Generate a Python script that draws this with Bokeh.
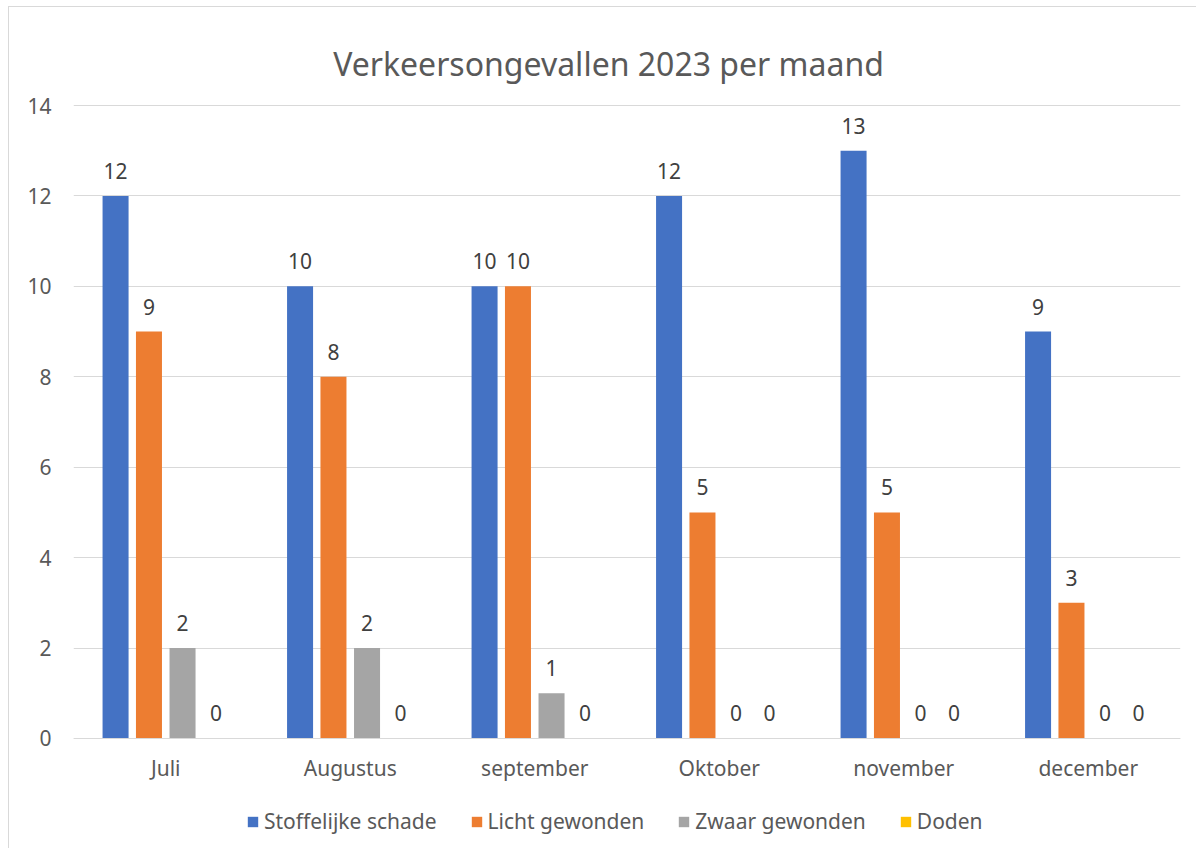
from bokeh.plotting import figure
from bokeh.models import ColumnDataSource, LabelSet, Label, Legend, LegendItem, Range1d, FixedTicker
from bokeh.core.properties import value
from bokeh.transform import dodge
from bokeh.embed import file_html
from bokeh.resources import INLINE

months = ["Juli", "Augustus", "september", "Oktober", "november", "december"]
series = ["Stoffelijke schade", "Licht gewonden", "Zwaar gewonden", "Doden"]
stoffelijke = [12, 10, 10, 12, 13, 9]
licht = [9, 8, 10, 5, 5, 3]
zwaar = [2, 2, 1, 0, 0, 0]
doden = [0, 0, 0, 0, 0, 0]
colors = ["#4472C4", "#ED7D31", "#A5A5A5", "#FFC000"]
y_ticks = [0, 2, 4, 6, 8, 10, 12, 14]
title_text = "Verkeersongevallen 2023 per maand"

FONT = "Noto Sans"
FS = "21px"

p = figure(x_range=months, y_range=Range1d(-2.433, 16.1675), frame_width=1107, frame_height=841,
           output_backend="svg", toolbar_location=None,
           min_border_left=64, min_border_right=16, min_border_top=0, min_border_bottom=0)
p.margin = (6, 0, 0, 8)
p.styles = {"border-left": "1px solid #d9d9d9", "border-top": "1px solid #d9d9d9"}

p.outline_line_color = None
p.xgrid.grid_line_color = None
p.ygrid.grid_line_color = "#d9d9d9"
p.ygrid.grid_line_width = 1

p.yaxis.ticker = FixedTicker(ticks=y_ticks)
p.yaxis.axis_line_color = None
p.yaxis.major_tick_line_color = None
p.yaxis.minor_tick_line_color = None
p.yaxis.major_tick_out = 0
p.yaxis.major_label_standoff = 22
p.yaxis.major_label_text_font = FONT
p.yaxis.major_label_text_font_size = FS
p.yaxis.major_label_text_color = "#595959"

p.xaxis.fixed_location = 0
p.xaxis.axis_line_color = "#d9d9d9"
p.xaxis.major_tick_line_color = None
p.xaxis.minor_tick_line_color = None
p.xaxis.major_tick_out = 0
p.xaxis.major_label_standoff = 16
p.xaxis.major_label_text_font = FONT
p.xaxis.major_label_text_font_size = FS
p.xaxis.major_label_text_color = "#595959"
p.x_range.range_padding = 0

src = ColumnDataSource(dict(month=months, s0=stoffelijke, s1=licht, s2=zwaar, s3=doden,
                            t0=[str(v) for v in stoffelijke], t1=[str(v) for v in licht],
                            t2=[str(v) for v in zwaar], t3=[str(v) for v in doden]))

offsets = [-0.272, -0.091, 0.091, 0.272]
items = []
for i, (name, col, off) in enumerate(zip(series, colors, offsets)):
    r = p.vbar(x=dodge("month", off, range=p.x_range), top=f"s{i}", width=0.141,
               source=src, fill_color=col, line_color=None)
    items.append(LegendItem(label=name, renderers=[r]))
    lbl = LabelSet(x=dodge("month", off, range=p.x_range), y=f"s{i}", text=f"t{i}",
                   source=src, text_align="center", text_baseline="middle", y_offset=25,
                   text_font=value(FONT), text_font_size=value(FS), text_color="#404040")
    p.add_layout(lbl)

title = Label(x=535, y=785, x_units="screen", y_units="screen", text=title_text,
              text_align="center", text_baseline="alphabetic",
              text_font=FONT, text_font_size="32px", text_color="#595959")
p.add_layout(title)

legend = Legend(items=items, orientation="horizontal", location=(173, 13))
legend.border_line_color = None
legend.background_fill_alpha = 0
legend.label_text_font = FONT
legend.label_text_font_size = FS
legend.label_text_color = "#595959"
legend.glyph_width = 13
legend.glyph_height = 13
legend.label_standoff = 5
legend.spacing = 33
legend.margin = 0
legend.padding = 0
p.add_layout(legend, "center")

open("out.html", "w").write(file_html(p, INLINE))
